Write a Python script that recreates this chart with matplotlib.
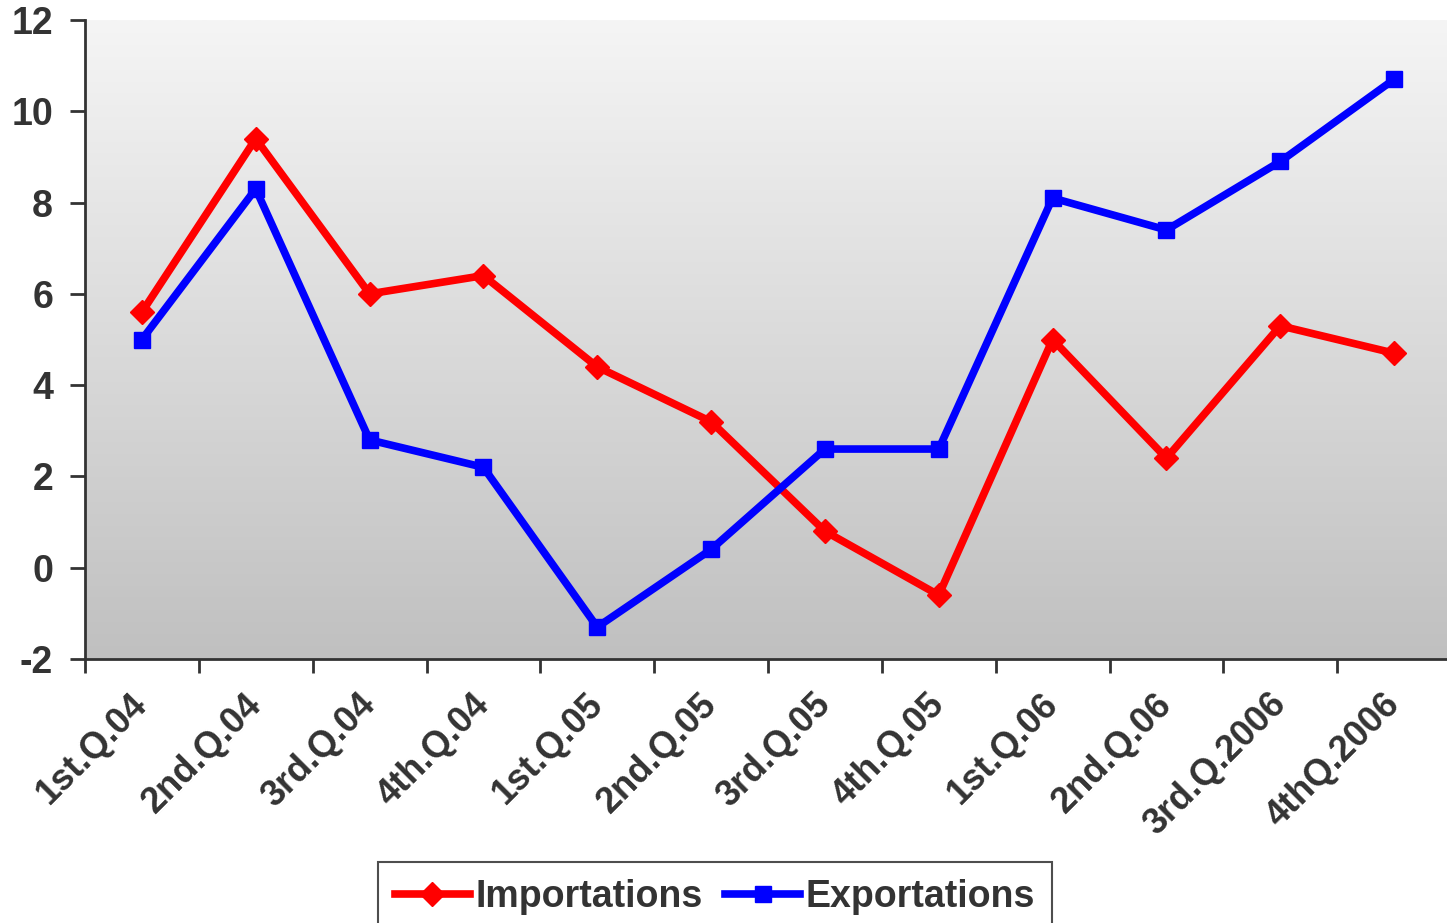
import numpy as np
import matplotlib.pyplot as plt
import matplotlib.transforms as mtransforms
from matplotlib.colors import LinearSegmentedColormap

quarters = ['1st.Q.04', '2nd.Q.04', '3rd.Q.04', '4th.Q.04',
            '1st.Q.05', '2nd.Q.05', '3rd.Q.05', '4th.Q.05',
            '1st.Q.06', '2nd.Q.06', '3rd.Q.2006', '4thQ.2006']
importations = [5.6, 9.4, 6.0, 6.4, 4.4, 3.2, 0.8, -0.6, 5.0, 2.4, 5.3, 4.7]
exportations = [5.0, 8.3, 2.8, 2.2, -1.3, 0.4, 2.6, 2.6, 8.1, 7.4, 8.9, 10.7]

plt.rcParams['font.family'] = ['Liberation Sans', 'DejaVu Sans']
plt.rcParams['font.weight'] = 'bold'
plt.rcParams['axes.unicode_minus'] = False
txt = '#333333'

fig = plt.figure(figsize=(14.47, 9.23), dpi=100)
W, H = 1447, 923
ax = fig.add_axes([85 / W, 1 - 659 / H, (1451 - 85) / W, (659 - 20) / H])

x = np.arange(len(quarters))
ax.set_xlim(-0.5, len(quarters) - 0.5)
ax.set_ylim(-2, 12)

# grey gradient background, light at the top
grad = LinearSegmentedColormap.from_list('bg', ['#c0c0c0', '#f5f5f5'])
ax.imshow(np.linspace(0, 1, 256).reshape(-1, 1), cmap=grad, origin='lower',
          extent=[-0.5, len(quarters) - 0.5, -2, 12], aspect='auto', zorder=0)

ax.plot(x, importations, color='#ff0000', lw=5.5, marker='D', ms=12,
        label='Importations', zorder=3, solid_joinstyle='round')
ax.plot(x, exportations, color='#0000ff', lw=5.5, marker='s', ms=11,
        label='Exportations', zorder=3, solid_joinstyle='round')

for s in ['top', 'right']:
    ax.spines[s].set_visible(False)
for s in ['left', 'bottom']:
    ax.spines[s].set_color(txt)
    ax.spines[s].set_linewidth(2)

ax.set_yticks(range(-2, 13, 2))
ax.tick_params(axis='y', length=11, width=2, color=txt, labelsize=27,
               labelcolor=txt, pad=12)
ax.set_xticks(np.arange(-0.5, len(quarters), 1.0))
ax.set_xticklabels([])
ax.set_xticks(x, minor=True)
ax.set_xticklabels(quarters, minor=True, rotation=45, ha='right',
                   rotation_mode='anchor')
ax.tick_params(axis='x', which='major', length=10, width=2, color=txt)
ax.tick_params(axis='x', which='minor', length=0, labelsize=26,
               labelcolor=txt, pad=20)
shift = mtransforms.ScaledTranslation(-12 / 100, 0, fig.dpi_scale_trans)
for lab in ax.get_xticklabels(minor=True):
    lab.set_fontweight('bold')
    lab.set_transform(lab.get_transform() + shift)
for lab in ax.get_yticklabels():
    lab.set_fontweight('bold')

leg = fig.legend(loc='upper center', bbox_to_anchor=(715 / W, 1 - 862 / H),
                 ncol=2, frameon=True, fancybox=False, borderaxespad=0,
                 handlelength=2.0, handletextpad=0.15, columnspacing=0.6,
                 borderpad=0.45, prop={'weight': 'bold', 'size': 27})
leg.get_frame().set_edgecolor('#222222')
leg.get_frame().set_linewidth(1.5)
for t in leg.get_texts():
    t.set_color(txt)

fig.savefig('out.png', dpi=100, facecolor='white')
